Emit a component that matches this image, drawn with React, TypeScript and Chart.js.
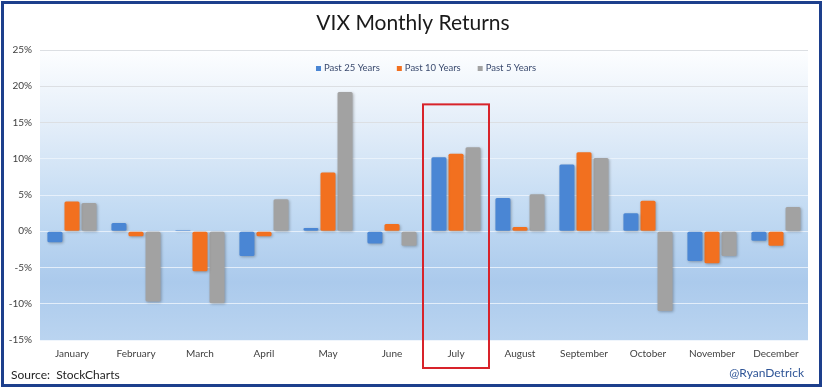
import React, { useEffect, useRef } from "react";
import { Chart, registerables } from "chart.js";

Chart.register(...registerables);

const months = ["January", "February", "March", "April", "May", "June", "July", "August", "September", "October", "November", "December"];
const past25 = [-1.5, 1.15, 0.15, -3.4, 0.45, -1.7, 10.2, 4.6, 9.2, 2.5, -4.1, -1.3];
const past10 = [4.1, -0.7, -5.5, -0.7, 8.1, 1.0, 10.7, 0.6, 10.9, 4.2, -4.4, -2.0];
const past5 = [3.9, -9.7, -9.9, 4.4, 19.2, -2.0, 11.6, 5.1, 10.1, -11.0, -3.4, 3.35];
const seriesNames = ["Past 25 Years", "Past 10 Years", "Past 5 Years"];
const seriesColors = ["#4a86d4", "#f2701f", "#a2a2a2"];
const titleText = "VIX Monthly Returns";
const sourceText = "Source:  StockCharts";
const handleText = "@RyanDetrick";
const highlightIndex = 6;

const FONT = "Lato, 'Open Sans', sans-serif";

const decor = {
  id: "decor",
  beforeDraw(chart: any) {
    const { ctx, chartArea } = chart;
    const W = chart.width, H = chart.height;
    ctx.save();
    ctx.fillStyle = "#ffffff";
    ctx.fillRect(0, 0, W, H);
    const g = ctx.createLinearGradient(0, chartArea.top, 0, chartArea.bottom);
    g.addColorStop(0, "#fdfeff");
    g.addColorStop(0.25, "#e4eef9");
    g.addColorStop(0.55, "#c3dbf3");
    g.addColorStop(0.8, "#abcaec");
    g.addColorStop(1, "#bad4f0");
    ctx.fillStyle = g;
    ctx.fillRect(chartArea.left, chartArea.top, chartArea.right - chartArea.left, chartArea.bottom - chartArea.top);
    ctx.strokeStyle = "#1d3f8c";
    ctx.lineWidth = 3;
    ctx.strokeRect(2.5, 2.5, W - 7, H - 6);
    ctx.restore();
  },
  beforeDatasetsDraw(chart: any) {
    const ctx = chart.ctx;
    ctx.save();
    ctx.shadowColor = "rgba(0,0,0,0.28)";
    ctx.shadowBlur = 3;
    ctx.shadowOffsetX = 1;
    ctx.shadowOffsetY = 1;
  },
  afterDatasetsDraw(chart: any) {
    chart.ctx.restore();
  },
  afterDraw(chart: any) {
    const { ctx, chartArea, scales } = chart;
    const W = chart.width;
    ctx.save();
    ctx.fillStyle = "#1a1a1a";
    ctx.font = `21px ${FONT}`;
    ctx.textAlign = "center";
    ctx.textBaseline = "middle";
    ctx.fillText(titleText, 413, 23);
    ctx.font = `9.5px ${FONT}`;
    const sq = 5, gapText = 3, gapItem = 17;
    const widths = seriesNames.map((n) => ctx.measureText(n).width);
    const total = widths.reduce((a, b) => a + b + sq + gapText, 0) + gapItem * (seriesNames.length - 1);
    let lx = (chartArea.left + chartArea.right) / 2 - total / 2 + 2;
    const ly = 68;
    ctx.textAlign = "left";
    seriesNames.forEach((n, i) => {
      ctx.fillStyle = seriesColors[i];
      ctx.fillRect(lx, ly - 2, sq, sq);
      ctx.fillStyle = "#3a4a6e";
      ctx.fillText(n, lx + sq + gapText, ly);
      lx += sq + gapText + widths[i] + gapItem;
    });
    ctx.font = `12px ${FONT}`;
    ctx.fillStyle = "#1f1f1f";
    ctx.textAlign = "left";
    ctx.fillText(sourceText, 11, 375);
    ctx.fillStyle = "#2f5597";
    ctx.textAlign = "right";
    ctx.fillText(handleText, W - 21, 373);
    const xs = scales.x, ys = scales.y;
    const cx = xs.getPixelForValue(highlightIndex);
    const half = xs.width / months.length / 2 + 1;
    const top = ys.getPixelForValue(17.5);
    ctx.strokeStyle = "#d8232a";
    ctx.lineWidth = 2;
    ctx.strokeRect(cx - half, top, half * 2, chartArea.bottom + 28 - top);
    ctx.restore();
  },
};

export default function App() {
  const ref = useRef<HTMLCanvasElement>(null);
  useEffect(() => {
    if (!ref.current) return;
    const datasets = [past25, past10, past5].map((d, i) => ({
      label: seriesNames[i],
      data: d,
      backgroundColor: seriesColors[i],
      borderRadius: 1.5,
      borderSkipped: false,
      categoryPercentage: 0.8,
      barPercentage: 0.88,
    }));
    const chart = new Chart(ref.current, {
      type: "bar",
      data: { labels: months, datasets },
      options: {
        responsive: false,
        animation: false,
        layout: { padding: { left: 8, right: 17, top: 50, bottom: 19 } },
        plugins: {
          legend: { display: false },
          title: { display: false },
          tooltip: { enabled: false },
        },
        scales: {
          x: {
            grid: { display: false, drawTicks: false },
            border: { display: false },
            ticks: { color: "#404040", font: { family: FONT, size: 10 }, padding: 8, maxRotation: 0, autoSkip: false },
            afterFit: (s: any) => { s.height = 30; },
          },
          y: {
            min: -15,
            max: 25,
            grid: {
              drawTicks: false,
              color: (c: any) => (c.tick && c.tick.value >= 15 ? "#dcdfe3" : "rgba(236,243,251,0.85)"),
              lineWidth: 1,
            },
            border: { display: false },
            ticks: {
              stepSize: 5,
              color: "#404040",
              font: { family: FONT, size: 10 },
              padding: 8,
              callback: (v: any) => `${v}%`,
            },
            afterFit: (s: any) => { s.width = 32; },
          },
        },
      },
      plugins: [decor],
    });
    return () => chart.destroy();
  }, []);
  return (
    <div style={{ position: "fixed", left: 0, top: 0, width: 825, height: 389 }}>
      <canvas ref={ref} width={825} height={389} />
    </div>
  );
}
